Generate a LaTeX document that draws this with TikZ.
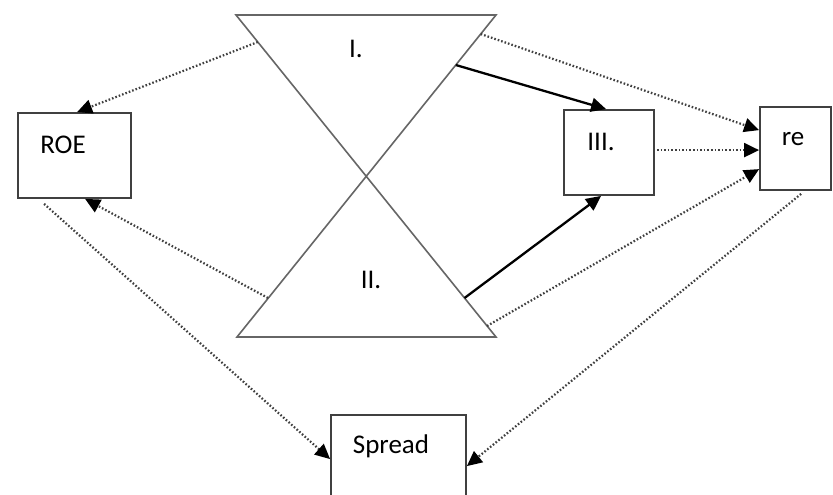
\documentclass[tikz,border=0pt]{standalone}
\usepackage{fontspec}
\setmainfont{Carlito}
\usetikzlibrary{arrows.meta,calc}
\tikzset{
  box/.style={draw=black!75, line width=1.8pt, inner sep=0pt, fill=white},
  lbl/.style={anchor=base, inner sep=0pt, font=\fontsize{27}{32}\selectfont, text=black},
  tri/.style={draw=black!60, line width=1.6pt},
  dotline/.style={draw=black!75, line width=2.2pt, dash pattern=on 1.6pt off 2.0pt,
    -{Triangle[length=15pt,width=14pt,color=black]}},
  solidline/.style={draw=black, line width=2.3pt,
    -{Triangle[length=15pt,width=14pt,color=black]}}
}
\begin{document}
\begin{tikzpicture}[x=1pt,y=-1pt]
\clip (0,0) rectangle (833,495);
\fill[white] (0,0) rectangle (833,495);
% bow-tie (two triangles)
\draw[tri] (236,15) -- (496,15) -- (237,337) -- (496,337) -- cycle;
\coordinate (t1) at (257.8,42);
\coordinate (t2) at (455.8,65);
\coordinate (t3) at (480.7,34);
\coordinate (b1) at (268,298);
\coordinate (b2) at (464.5,298);
\coordinate (b3) at (487,326);
% boxes
\node[box, minimum width=113pt, minimum height=85pt] (roe) at (74.5,155.5) {};
\node[box, minimum width=90pt, minimum height=85pt] (iii) at (609,152.5) {};
\node[box, minimum width=71pt, minimum height=83pt] (re) at (795.5,148.5) {};
\node[box, minimum width=135pt, minimum height=110pt] (spread) at (398.5,470) {};
% labels
\node[lbl] (lroe) at (63,153) {ROE};
\node[lbl] (li) at (356,58) {I.};
\node[lbl] (lii) at (371,288) {II.};
\node[lbl] (liii) at (601,150) {III.};
\node[lbl] (lre) at (793,145) {re};
\node[lbl] (lspread) at (391,453) {Spread};
% connectors
\draw[dotline] (t1) -- ($(roe.north west)+(60,0)$);
\draw[dotline] (b1) -- ($(roe.south west)+(68,0)$);
\coordinate (roeout) at ($(roe.south west)+(27,5)$);
\draw[dotline] (roeout) -- ($(spread.north west)+(0,45)$);
\coordinate (reout) at ($(re.south west)+(42,3)$);
\draw[dotline] (reout) -- ($(spread.north east)+(0,52)$);
\draw[solidline] (t2) -- ($(iii.north west)+(43,0)$);
\draw[solidline] (b2) -- ($(iii.south west)+(38,0)$);
\draw[dotline] (t3) -- ($(re.north west)+(0,24)$);
\draw[dotline] ($(iii.north east)+(2,41)$) -- ($(re.north west)+(0,44)$);
\draw[dotline] (b3) -- ($(re.north west)+(0,63)$);
\end{tikzpicture}
\end{document}
